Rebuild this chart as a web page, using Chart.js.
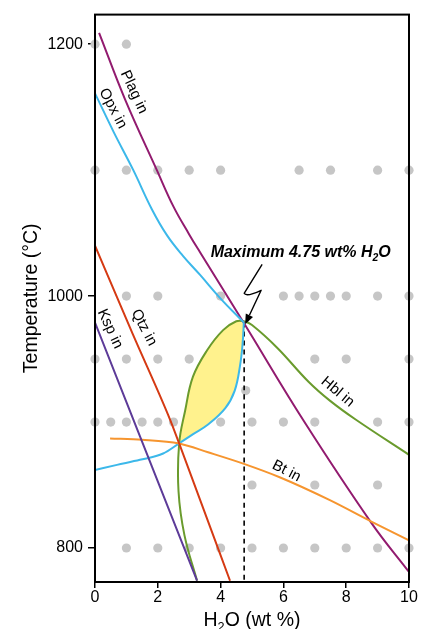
<!DOCTYPE html>
<html>
<head>
<meta charset="utf-8">
<script src="https://cdn.jsdelivr.net/npm/chart.js@4.4.1/dist/chart.umd.min.js"></script>
<style>
  html, body { margin: 0; padding: 0; background: #fff; }
  #wrap { width: 426px; height: 629px; }
</style>
</head>
<body>
<div id="wrap"><canvas id="phaseChart" width="426" height="629"></canvas></div>
<script>
// axes
const xTicks = [0, 2, 4, 6, 8, 10];
const yTicks = [800, 1000, 1200];
const xRange = [0, 10];
const yRange = [773, 1223.5];

// experiment runs, H2O wt% per temperature row
const runs1200 = [0, 1];
const runs1100 = [0, 1, 2, 3, 4, 6.5, 7.5, 9, 10];
const runs1000 = [1, 2, 4, 6, 6.5, 7, 7.5, 8, 9, 10];
const runs950 = [0, 1, 2, 3, 7, 8, 10];
const runs925 = [4.8];
const runs900 = [0, 0.5, 1, 1.5, 2, 2.5, 4, 5, 6, 7, 9, 10];
const runs850 = [5, 7, 9];
const runs800 = [1, 2, 3, 4, 5, 6, 7, 8, 9, 10];

// phase-in curves [H2O, T]
const plagIn = [[0.13, 1209], [0.96, 1156], [1.97, 1100], [2.5, 1071], [3.0, 1049], [3.34, 1035], [4.78, 977], [6.62, 902], [8.8, 820], [10, 781]];
const opxIn = [[0, 1161], [0.6, 1130], [1.22, 1100], [1.81, 1069], [2.3, 1048], [2.8, 1032], [3.34, 1017], [4.0, 998], [4.74, 979]];
const opxLower = [[0, 862], [0.7, 866], [1.43, 870], [2.17, 875], [2.68, 883]];
const meltRight = [[2.68, 883], [3.1, 890], [3.6, 898], [4.15, 911], [4.45, 925], [4.62, 945], [4.7, 962], [4.74, 979]];
const meltLeft = [[2.68, 883], [2.87, 909], [3.12, 936], [3.57, 957], [4.08, 973], [4.5, 980], [4.74, 980]];
const hblBelow = [[3.25, 774], [2.85, 810], [2.66, 845], [2.68, 883]];
const hblRight = [[4.74, 980], [5.0, 977], [5.8, 959], [6.8, 932], [7.48, 917], [8.3, 902], [10, 874]];
const qtzIn = [[0, 1040], [1.2, 970], [2.39, 902], [2.68, 883], [3.35, 838], [4.3, 774]];
const kspIn = [[0, 979], [3.25, 774]];
const btIn = [[0.48, 887], [1.5, 886], [2.68, 883], [3.6, 876], [4.72, 867], [5.9, 856], [7.48, 838], [8.8, 821], [10, 806]];
const maxWater = [[4.75, 979], [4.75, 773]];

// labels [text, H2O, T, angle]
const curveLabels = [
  ["Plag in", 1.24, 1162, 65],
  ["Opx in", 0.57, 1149, 62],
  ["Qtz in", 1.56, 975, 62],
  ["Ksp in", 0.48, 974, 65],
  ["Hbl in", 7.73, 924, 40],
  ["Bt in", 6.1, 861, 27]
];
const noteAnchor = [6.55, 1035];
const arrowTip = [4.75, 980];

const FONT = "'Liberation Sans', Arial, sans-serif";
const toXY = pts => pts.map(p => ({ x: p[0], y: p[1] }));
const row = (xs, t) => xs.map(x => ({ x: x, y: t }));

const runPoints = [].concat(
  row(runs1200, 1200), row(runs1100, 1100), row(runs1000, 1000), row(runs950, 950),
  row(runs925, 925), row(runs900, 900), row(runs850, 850), row(runs800, 800)
);
const hblIn = hblBelow.concat(meltLeft.slice(1), hblRight.slice(1));
const meltField = meltLeft.concat(meltRight.slice().reverse().slice(1));

function curve(pts, color, opts) {
  return Object.assign({
    data: toXY(pts),
    showLine: true,
    borderColor: color,
    borderWidth: 2,
    pointRadius: 0,
    tension: 0,
    cubicInterpolationMode: "monotone",
    fill: false,
    order: 1
  }, opts || {});
}
const smooth = { cubicInterpolationMode: "default", tension: 0.4 };

const datasets = [
  {
    data: runPoints, showLine: false, pointRadius: 4.6, pointBackgroundColor: "#c6c6c6",
    pointBorderWidth: 0, order: 10, clip: false
  },
  curve(meltField, "rgba(0,0,0,0)", Object.assign({ fill: "shape", backgroundColor: "#fff28d", borderWidth: 0, order: 9 }, smooth)),
  curve(maxWater, "#000", { borderWidth: 1.6, borderDash: [5, 4], order: 8 }),
  curve(kspIn, "#5d3b98"),
  curve(qtzIn, "#d53a13"),
  curve(btIn, "#f6952f"),
  curve(opxIn, "#3cb8ea", smooth),
  curve(opxLower, "#3cb8ea"),
  curve(meltRight, "#3cb8ea", smooth),
  curve(plagIn, "#921b6f", smooth),
  curve(hblIn, "#6a9b2d", smooth)
];

function drawSubText(ctx, parts, x, y, size, weight) {
  // parts: [text, isSub]
  let total = 0;
  parts.forEach(p => {
    ctx.font = weight + " " + (p[1] ? size * 0.65 : size) + "px " + FONT;
    total += ctx.measureText(p[0]).width;
  });
  let cx = x - total / 2;
  parts.forEach(p => {
    ctx.font = weight + " " + (p[1] ? size * 0.65 : size) + "px " + FONT;
    ctx.fillText(p[0], cx, p[1] ? y + size * 0.28 : y);
    cx += ctx.measureText(p[0]).width;
  });
}

const decor = {
  id: "decor",
  afterDatasetsDraw(chart) {
    const { ctx, chartArea: a, scales } = chart;
    const px = v => scales.x.getPixelForValue(v);
    const py = v => scales.y.getPixelForValue(v);
    ctx.save();
    ctx.strokeStyle = "#000";
    ctx.lineWidth = 2;
    ctx.strokeRect(a.left, a.top, a.right - a.left, a.bottom - a.top);

    ctx.fillStyle = "#000";
    ctx.textAlign = "center";
    ctx.textBaseline = "middle";
    ctx.font = "15px " + FONT;
    curveLabels.forEach(l => {
      ctx.save();
      ctx.translate(px(l[1]), py(l[2]));
      ctx.rotate(l[3] * Math.PI / 180);
      ctx.fillText(l[0], 0, 0);
      ctx.restore();
    });

    // note
    ctx.textAlign = "left";
    ctx.textBaseline = "alphabetic";
    drawSubText(ctx, [["Maximum 4.75 wt% H", false], ["2", true], ["O", false]],
      px(noteAnchor[0]), py(noteAnchor[1]) + 5, 16, "italic bold");

    // lightning arrow
    const tx = px(arrowTip[0]) + 1, ty = py(arrowTip[1]) + 3;
    const bx = tx + 16, by = ty - 34;
    const len = Math.hypot(tx - bx, ty - by);
    const ux = (tx - bx) / len, uy = (ty - by) / len;
    const hx = tx - 10 * ux, hy = ty - 10 * uy;
    ctx.beginPath();
    ctx.moveTo(tx + 17, ty - 60);
    ctx.lineTo(tx - 1, ty - 31);
    ctx.quadraticCurveTo(tx + 1, ty - 27, bx, by);
    ctx.lineTo(hx, hy);
    ctx.lineWidth = 1.4;
    ctx.lineJoin = "round";
    ctx.stroke();
    ctx.beginPath();
    ctx.moveTo(tx, ty);
    ctx.lineTo(hx + 4 * uy, hy - 4 * ux);
    ctx.lineTo(hx - 4 * uy, hy + 4 * ux);
    ctx.closePath();
    ctx.fill();

    // axis titles
    drawSubText(ctx, [["H", false], ["2", true], ["O (wt %)", false]], (a.left + a.right) / 2, 626, 19.5, "normal");
    ctx.save();
    ctx.translate(37, (a.top + a.bottom) / 2);
    ctx.rotate(-Math.PI / 2);
    ctx.textAlign = "center";
    ctx.font = "19.5px " + FONT;
    ctx.fillText("Temperature (\u00B0C)", 0, 0);
    ctx.restore();
    ctx.restore();
  }
};

const tickFont = { family: FONT, size: 16 };
new Chart(document.getElementById("phaseChart").getContext("2d"), {
  type: "scatter",
  data: { datasets },
  options: {
    responsive: false,
    animation: false,
    layout: { padding: { top: 14, right: 17, left: 0, bottom: 0 } },
    plugins: { legend: { display: false }, tooltip: { enabled: false } },
    scales: {
      x: {
        type: "linear", min: xRange[0], max: xRange[1],
        afterFit: s => { s.height = 47; },
        afterBuildTicks: s => { s.ticks = xTicks.map(v => ({ value: v })); },
        grid: { drawOnChartArea: false, tickLength: 6, color: "#000", lineWidth: 1.5 },
        border: { display: false },
        ticks: { font: tickFont, color: "#000", padding: 0, maxRotation: 0, callback: v => String(v) }
      },
      y: {
        type: "linear", min: yRange[0], max: yRange[1],
        afterFit: s => { s.width = 95; },
        afterBuildTicks: s => { s.ticks = yTicks.map(v => ({ value: v })); },
        grid: { drawOnChartArea: false, tickLength: 7, color: "#000", lineWidth: 1.5 },
        border: { display: false },
        ticks: { font: tickFont, color: "#000", padding: 5, callback: v => String(v) }
      }
    }
  },
  plugins: [decor]
});
</script>
</body>
</html>
